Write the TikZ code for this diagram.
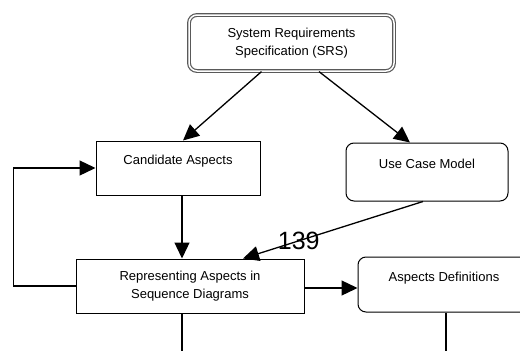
\documentclass[tikz,border=0pt]{standalone}
\usepackage{fontspec}
\setmainfont{Liberation Sans}
\usetikzlibrary{arrows.meta}
\begin{document}
\begin{tikzpicture}[x=1pt,y=-1pt,
    font=\fontsize{13}{18}\selectfont,
    box/.style={draw,line width=1pt,align=center,inner sep=0pt},
    rbox/.style={box,rounded corners=8pt},
    srsbox/.style={draw=black!65,line width=1.2pt,double=white,double distance=1.5pt,
        rounded corners=8pt,align=center,inner sep=0pt},
    arr/.style={line width=1.3pt,-{Triangle[length=16pt,width=15pt]}},
    ln/.style={line width=1.3pt}]
            \useasboundingbox (0,0) rectangle (520,351);

            \node[srsbox,minimum width=205,minimum height=56] (SRS) at (291.5,43) {System Requirements\\Specification (SRS)};
            \node[box,minimum width=164,text height=23,text depth=31] (CA) at (178,168) {Candidate Aspects};
            \node[rbox,minimum width=162,text height=25,text depth=33] (UC) at (427,172) {Use Case Model};
            \node[box,minimum width=228,minimum height=54] (RA) at (190,286) {Representing Aspects in\\Sequence Diagrams};
            \node[rbox,minimum width=172,text height=24,text depth=31] (AD) at (444,284.5) {Aspects Definitions};

            \path [arr] ([xshift=-30pt]SRS.south) edge ([xshift=5pt]CA.north);
            \path [arr] ([xshift=27.5pt]SRS.south) edge ([xshift=-17pt]UC.north);
            \path [arr] ([xshift=4pt]CA.south) edge ([xshift=4pt]CA.south |- RA.north);
            \path [arr] ([xshift=-4pt]UC.south) edge node[pos=0.69,font=\fontsize{25}{25}\selectfont] (N) {139} ([xshift=53pt]RA.north);
            \path [arr] ([yshift=-2pt]RA.east) edge ([yshift=-2pt]RA.east -| AD.west);
            \draw [arr] (RA.west) -- ++(-62,0) |- (CA.west);
            \draw [ln] ([xshift=-8pt]RA.south) -- ++(0,40);
            \draw [ln] ([xshift=2pt]AD.south) -- ++(0,40);
        \end{tikzpicture}
\end{document}
